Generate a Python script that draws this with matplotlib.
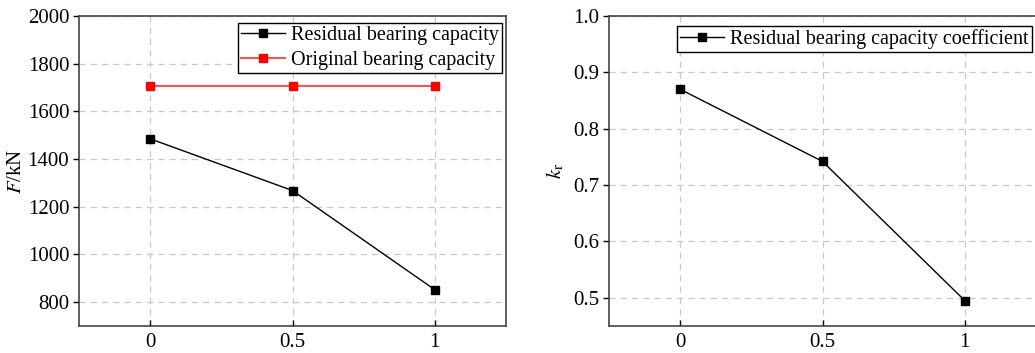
import numpy as np
import matplotlib
matplotlib.use("Agg")
import matplotlib.pyplot as plt

plt.rcParams["font.family"] = ["Liberation Serif", "DejaVu Serif"]
plt.rcParams["mathtext.fontset"] = "stix"

# Data
x = [0, 0.5, 1]
x_labels = ["0", "0.5", "1"]
residual = [1485, 1268, 852]
original = [1705, 1705, 1705]
coeff = [0.870, 0.742, 0.495]

fig = plt.figure(figsize=(10.35, 3.53), dpi=100)
ax1 = fig.add_axes([79 / 1035, 27 / 353, 427 / 1035, 310 / 353])
ax2 = fig.add_axes([609 / 1035, 27 / 353, 427 / 1035, 310 / 353])

spine_col = "#444444"
grid_kw = dict(color="#c8c8c8", linestyle=(0, (5, 4)), linewidth=0.9)
leg_kw = dict(fontsize=14.5, frameon=True, fancybox=False, edgecolor="black",
              framealpha=1, borderpad=0.15, labelspacing=0.3,
              handlelength=2.2, handletextpad=0.3, borderaxespad=0)

# Left panel: bearing capacity
ax1.plot(x, residual, color="black", linewidth=1, marker="s", markersize=5.5,
         label="Residual bearing capacity")
ax1.plot(x, original, color="#f25555", linewidth=1.5, marker="s", markersize=5.5,
         markerfacecolor="red", markeredgecolor="red",
         label="Original bearing capacity")
ax1.set_xlim(-0.25, 1.25)
ax1.set_ylim(700, 2000)
ax1.set_yticks([800, 1000, 1200, 1400, 1600, 1800, 2000])
ax1.set_ylabel("$F$/kN", fontsize=15, labelpad=1)
ax1.legend(loc="upper right", bbox_to_anchor=(0.9906, 0.977), **leg_kw)

# Right panel: residual bearing capacity coefficient
ax2.plot(x, coeff, color="black", linewidth=1, marker="s", markersize=5.5,
         label="Residual bearing capacity coefficient")
ax2.set_xlim(-0.25, 1.25)
ax2.set_ylim(0.45, 1.0)
ax2.set_yticks([0.5, 0.6, 0.7, 0.8, 0.9, 1.0])
ax2.set_ylabel("$k_\\mathrm{r}$", fontsize=15, labelpad=5)
ax2.legend(loc="upper left", bbox_to_anchor=(0.159, 0.968), **leg_kw)

for ax in (ax1, ax2):
    ax.set_xticks(x)
    ax.set_xticklabels(x_labels)
    ax.grid(True, **grid_kw)
    ax.set_axisbelow(True)
    for s in ax.spines.values():
        s.set_color(spine_col)
        s.set_linewidth(1.2)
    ax.tick_params(axis="both", labelsize=15, colors="black", length=4,
                   width=1, pad=3)
    ax.tick_params(axis="x", direction="in", pad=5)
    ax.tick_params(axis="y", direction="out")
    for t in ax.get_xticklines() + ax.get_yticklines():
        t.set_color(spine_col)

fig.savefig("out.png", dpi=100)
